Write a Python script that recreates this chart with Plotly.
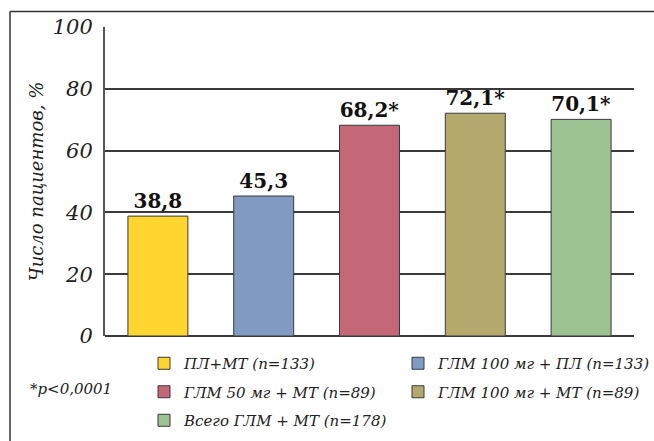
import plotly.graph_objects as go

# Response rates by treatment group
groups = [
    "ПЛ+МТ (n=133)",
    "ГЛМ 100 мг + ПЛ (n=133)",
    "ГЛМ 50 мг + МТ (n=89)",
    "ГЛМ 100 мг + МТ (n=89)",
    "Всего ГЛМ + МТ (n=178)",
]
values = [38.8, 45.3, 68.2, 72.1, 70.1]
significant = [False, False, True, True, True]
colors = ["#FFD530", "#7F9BC1", "#C46878", "#B4A96C", "#9BC290"]
legend_column = ["legend", "legend2", "legend", "legend2", "legend"]
y_ticks = [0, 20, 40, 60, 80, 100]

W, H = 654, 441
L, R, T, B = 105, 20, 27, 105
pw, ph = W - L - R, H - T - B

SERIF = "DejaVu Serif"


def px_x(x):
    return (x - L) / pw


def px_y(y):
    return (H - B - y) / ph


fig = go.Figure()
for i, (g, v, s, c, lg) in enumerate(zip(groups, values, significant, colors, legend_column)):
    label = f"{v:.1f}".replace(".", ",") + ("*" if s else "")
    fig.add_trace(go.Bar(
        x=[i], y=[v], name=g, legend=lg, legendgroup=f"g{i}",
        marker=dict(color=c, line=dict(color="#3a3a3a", width=1)),
        text=[label], textposition="outside", cliponaxis=False,
        textfont=dict(family=SERIF, size=20, color="#111", weight="bold"),
        width=0.567,
    ))

legend_font = dict(family=SERIF, size=15, color="#222", style="italic")
legend_common = dict(
    orientation="v", xanchor="left", yanchor="top",
    font=legend_font, itemclick=False, itemdoubleclick=False,
    traceorder="grouped", tracegroupgap=6, bgcolor="rgba(0,0,0,0)",
)

fig.update_layout(
    width=W, height=H,
    margin=dict(l=L, r=R, t=T, b=B, autoexpand=False),
    paper_bgcolor="white", plot_bgcolor="white",
    barmode="overlay",
    showlegend=True,
    legend=dict(x=px_x(144), y=px_y(347), **legend_common),
    legend2=dict(x=px_x(398), y=px_y(347), **legend_common),
    xaxis=dict(
        range=[-0.5, 4.5], showticklabels=False, showgrid=False,
        zeroline=False, showline=False, fixedrange=True,
    ),
    yaxis=dict(
        range=[0, 100], tickvals=y_ticks,
        showgrid=True, gridcolor="#3a3a3a", gridwidth=1.5,
        zeroline=True, zerolinecolor="#3a3a3a", zerolinewidth=1.5,
        showline=True, linecolor="#555", linewidth=2,
        ticks="", ticklabelstandoff=6,
        tickfont=dict(family=SERIF, size=21, color="#222", style="italic"),
        title=dict(text="Число пациентов, %", standoff=4,
                   font=dict(family=SERIF, size=18, color="#222", style="italic")),
    ),
    annotations=[dict(
        text="*p<0,0001", xref="paper", yref="paper",
        x=px_x(28), y=px_y(389), xanchor="left", yanchor="middle",
        showarrow=False,
        font=dict(family=SERIF, size=15, color="#222", style="italic"),
    )],
    shapes=[
        dict(type="line", xref="paper", yref="paper",
             x0=px_x(10), x1=px_x(W), y0=px_y(11.5), y1=px_y(11.5),
             line=dict(color="#333", width=1.5)),
        dict(type="line", xref="paper", yref="paper",
             x0=px_x(10), x1=px_x(10), y0=px_y(11.5), y1=px_y(H),
             line=dict(color="#333", width=1.5)),
    ],
)

fig.write_html("out.html")
